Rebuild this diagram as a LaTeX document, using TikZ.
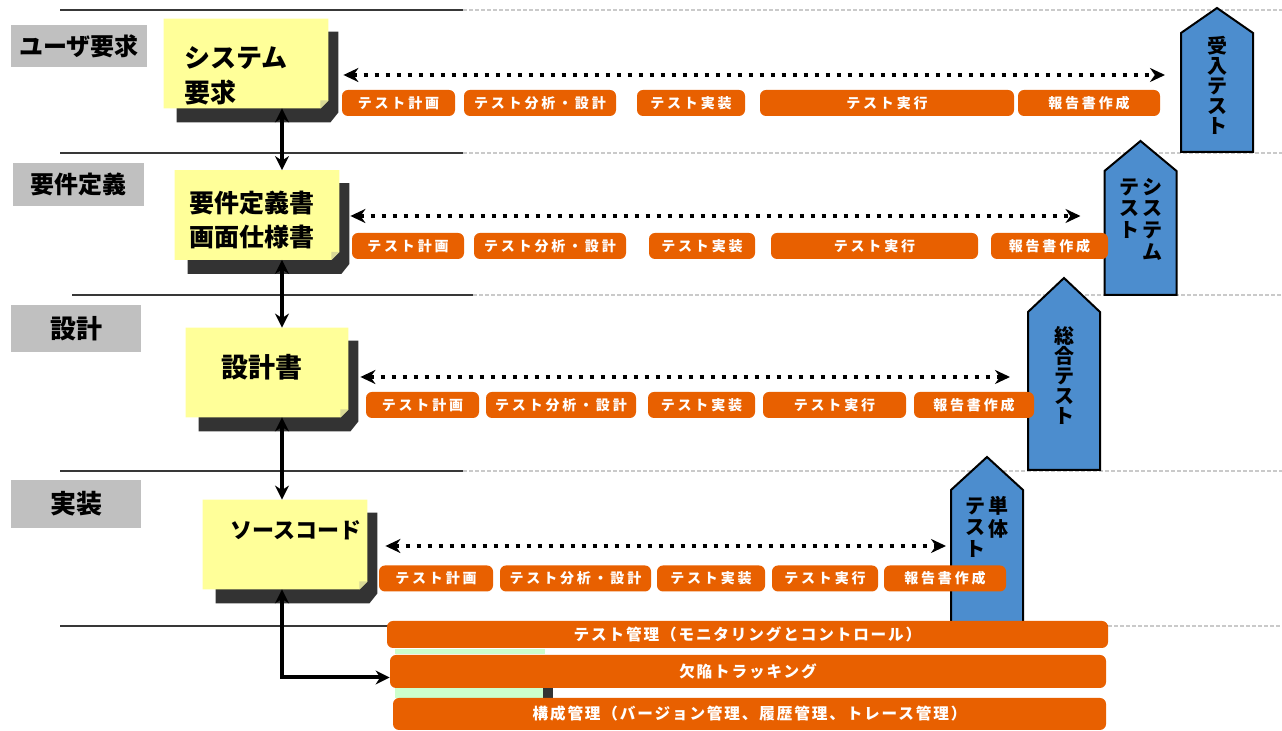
\documentclass[tikz,border=0pt]{standalone}
\usepackage{fontspec}
\setmainfont{Noto Sans CJK JP}
\usetikzlibrary{arrows.meta,calc}

\definecolor{TaskOrange}{HTML}{E86000}
\definecolor{NoteYellow}{HTML}{FFFF99}
\definecolor{NoteShade}{HTML}{333333}
\definecolor{NoteFold}{HTML}{D8D896}
\definecolor{PhaseGray}{HTML}{C0C0C0}
\definecolor{TagBlue}{HTML}{4C8DCE}
\definecolor{RuleDark}{HTML}{383838}
\definecolor{RuleLight}{HTML}{CACACA}
\definecolor{StripGreen}{HTML}{CCFFCC}

\pgfdeclarelayer{rules}
\pgfdeclarelayer{shapes}
\pgfsetlayers{rules,shapes,main}

\tikzset{
  phasebox/.style={fill=PhaseGray,inner sep=0pt,font=\bfseries\fontsize{12}{12}\selectfont},
  notebox/.style={minimum width=82pt,minimum height=44.5pt,inner sep=0pt},
  notetext/.style={inner sep=0pt,align=left,font=\bfseries\fontsize{13}{17.5}\selectfont},
  taskbox/.style={fill=TaskOrange,text=white,rounded corners=3pt,minimum height=13pt,
    inner sep=0pt,font=\bfseries\fontsize{7}{7}\selectfont\addfontfeature{LetterSpace=20}},
  barbox/.style={fill=TaskOrange,text=white,rounded corners=3pt,inner sep=0pt,
    font=\bfseries\fontsize{7.8}{7.8}\selectfont\addfontfeature{LetterSpace=12}},
  tagtext/.style={inner sep=0pt,align=center,font=\bfseries\fontsize{10}{10}\selectfont},
  ruledark/.style={RuleDark,line width=1pt},
  rulelight/.style={RuleLight,line width=0.8pt,dash pattern=on 2pt off 1pt},
  flowarrow/.style={line width=2pt,arrows={Stealth[length=7pt,width=7pt]-Stealth[length=7pt,width=7pt]}},
  planarrow/.style={line width=2pt,dash pattern=on 2pt off 3.5pt,
    arrows={Stealth[length=7.5pt,width=7pt]-Stealth[length=7.5pt,width=7pt]}}
}

% sticky note: shadow, yellow sheet and folded corner behind a notebox node
\newcommand\notesheet[1]{%
  \begin{pgfonlayer}{shapes}
    \fill[NoteShade] ($(#1.north west)+(13,13)$) -- ($(#1.north east)+(10,13)$)
      -- ($(#1.south east)+(10,4)$) -- ($(#1.south east)+(2,14)$)
      -- ($(#1.south west)+(13,14)$) -- cycle;
    \fill[NoteYellow] (#1.north west) -- (#1.north east) -- ($(#1.south east)+(0,-8)$)
      -- ($(#1.south east)+(-8,0)$) -- (#1.south west) -- cycle;
    \fill[NoteFold] ($(#1.south east)+(0,-8)$) -- ($(#1.south east)+(-8,-8)$)
      -- ($(#1.south east)+(-8,0)$) -- cycle;
  \end{pgfonlayer}}

% test level tag: name of left edge, centre x, apex, shoulder, bottom
\newcommand\testtag[5]{%
  \begin{pgfonlayer}{shapes}
    \filldraw[fill=TagBlue,draw=black,line width=1pt]
      (#2-36,#5) -- (#2-36,#4) -- (#2,#3) -- (#2+36,#4) -- (#2+36,#5) -- cycle;
  \end{pgfonlayer}
  \coordinate (#1) at (#2-36,#4);}

\newcommand\tagcols[2]{\begin{tabular}[t]{@{}c@{}}#1\end{tabular}\hspace{1.5pt}%
  \begin{tabular}[t]{@{}c@{}}#2\end{tabular}}

\begin{document}
\begin{tikzpicture}[x=0.5pt,y=-0.5pt]
  \useasboundingbox (0,0) rectangle (1282,731);
  \begin{pgfonlayer}{rules}
    \fill[white] (0,0) rectangle (1282,731);
    \foreach \xa/\xb/\y in {60/463/10,60/463/153,72/473/295,60/463/471,60/1108/626}
      \draw[ruledark] (\xa,\y) -- (\xb,\y);
    \foreach \xa/\y in {463/10,463/153,473/295,463/471,1108/626}
      \draw[rulelight] (\xa,\y) -- (1282,\y);
  \end{pgfonlayer}

  % phases
  \node[phasebox,minimum width=68pt,minimum height=21pt] (userreq) at (79,46) {ユーザ要求};
  \node[phasebox,minimum width=65.5pt,minimum height=21.5pt] (reqphase) at (78.5,184.5) {要件定義};
  \node[phasebox,minimum width=65pt,minimum height=23.5pt,
        font=\bfseries\fontsize{13}{13}\selectfont] (designphase) at (76,328.5) {設計};
  \node[phasebox,minimum width=65pt,minimum height=24pt,
        font=\bfseries\fontsize{13}{13}\selectfont] (implphase) at (76,504) {実装};

  % documents
  \node[notebox] (sysreq) at (246,63.5) {};
  \node[notebox] (reqdef) at (257,215) {};
  \node[notebox,minimum width=81pt] (design) at (267,372.5) {};
  \node[notebox] (code) at (285,544.5) {};
  \foreach \n in {sysreq,reqdef,design,code}
    \notesheet{\n};
  \node[notetext,anchor=west] (sysreqtxt) at (184,75.5) {システム\\要求};
  \node[notetext,font=\bfseries\fontsize{12.5}{17}\selectfont] (reqdeftxt) at (252,220) {要件定義書\\画面仕様書};
  \node[notetext,font=\bfseries\fontsize{13.5}{14}\selectfont] (designtxt) at (262,367) {設計書};
  \node[notetext,font=\bfseries\fontsize{11}{12}\selectfont] (codetxt) at (296,530) {ソースコード};

  % test levels
  \testtag{accept-edge}{1217}{8}{33}{152}
  \testtag{systest-edge}{1140.5}{141}{171}{295}
  \testtag{integ-edge}{1064}{278}{312}{470}
  \testtag{unit-edge}{987}{457}{490}{624}
  \node[tagtext,anchor=north] (accept) at (1217,36) {受\\入\\テ\\ス\\ト};
  \node[tagtext,anchor=north] (systest) at (1140.5,178) {\tagcols{テ\\ス\\ト}{シ\\ス\\テ\\ム}};
  \node[tagtext,anchor=north] (integ) at (1064,326) {総\\合\\テ\\ス\\ト};
  \node[tagtext,anchor=north] (unit) at (987,496) {\tagcols{テ\\ス\\ト}{単\\体}};

  % derivation between documents
  \coordinate (col) at (282,0);
  \draw[flowarrow] (sysreq.south -| col) -- (reqdef.north -| col);
  \draw[flowarrow] (reqdef.south -| col) -- (design.north -| col);
  \draw[flowarrow] (design.south -| col) -- (code.north -| col);

  % test process rows
  \foreach \xa/\xb/\txt [count=\i] in {342/455/テスト計画,464/616/テスト分析・設計,
      637/745/テスト実装,760/1014/テスト実行,1018/1160/報告書作成}
    \node[taskbox,minimum width={(\xb-\xa)*0.5pt}] (acctask\i) at ({(\xa+\xb)/2},103) {\txt};
  \foreach \xa/\xb/\txt [count=\i] in {352/464/テスト計画,474/626/テスト分析・設計,
      649/755/テスト実装,771/978/テスト実行,991/1108/報告書作成}
    \node[taskbox,minimum width={(\xb-\xa)*0.5pt}] (systask\i) at ({(\xa+\xb)/2},246) {\txt};
  \foreach \xa/\xb/\txt [count=\i] in {366/479/テスト計画,486/636/テスト分析・設計,
      648/755/テスト実装,763/906/テスト実行,914/1034/報告書作成}
    \node[taskbox,minimum width={(\xb-\xa)*0.5pt}] (inttask\i) at ({(\xa+\xb)/2},405) {\txt};
  \foreach \xa/\xb/\txt [count=\i] in {379/493/テスト計画,500/651/テスト分析・設計,
      657/765/テスト実装,772/878/テスト実行,884/1006/報告書作成}
    \node[taskbox,minimum width={(\xb-\xa)*0.5pt}] (unittask\i) at ({(\xa+\xb)/2},578.5) {\txt};

  % verification links
  \coordinate (p1) at ($(sysreq.east)+(15,11.5)$);
  \coordinate (p2) at ($(reqdef.east)+(11,1)$);
  \coordinate (p3) at ($(design.east)+(12,4.5)$);
  \coordinate (p4) at ($(code.east)+(18,1.5)$);
  \draw[planarrow] (p1) -- ($(p1 -| accept-edge)+(-16,0)$);
  \draw[planarrow] (p2) -- ($(p2 -| systest-edge)+(-24,0)$);
  \draw[planarrow] (p3) -- ($(p3 -| integ-edge)+(-18,0)$);
  \draw[planarrow] (p4) -- ($(p4 -| unit-edge)+(-5,0)$);

  % management bars
  \fill[StripGreen] (395,649) rectangle (545,654);
  \fill[StripGreen] (395,688) rectangle (545,698);
  \fill[NoteShade] (543,688) rectangle (553,698);
  \node[barbox,minimum width=360.5pt,minimum height=13.5pt] (testmgmt) at (747.5,634.5)
    {テスト管理（モニタリングとコントロール）};
  \node[barbox,minimum width=358pt,minimum height=16.5pt] (defect) at (748,671.5)
    {欠陥トラッキング};
  \node[barbox,minimum width=356.5pt,minimum height=16pt] (config) at (749.5,714)
    {構成管理（バージョン管理、履歴管理、トレース管理）};
  \draw[flowarrow] (code.south -| col) |- ([yshift=-3pt]defect.west);
\end{tikzpicture}
\end{document}
